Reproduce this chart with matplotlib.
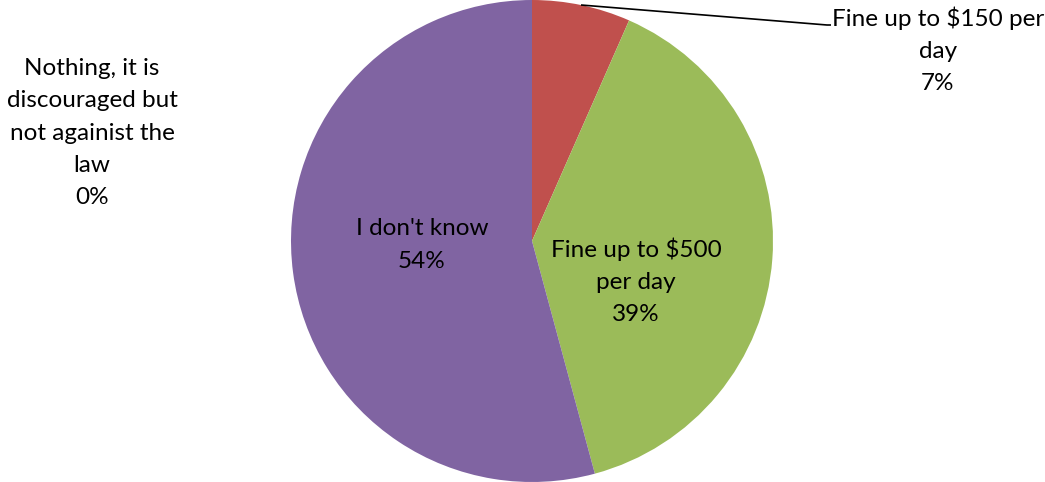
import matplotlib
matplotlib.use("Agg")
import matplotlib.pyplot as plt

# Survey answers, in percent
answers = [
    "Fine up to $150 per\nday",
    "Fine up to $500\nper day",
    "I don't know",
    "Nothing, it is\ndiscouraged but\nnot againist the\nlaw",
]
shares = [6.6, 39.2, 54.2, 0.0]
colors = ["#C0504D", "#9BBB59", "#8064A2", "#4F81BD"]

plt.rcParams["font.family"] = ["Lato", "DejaVu Sans"]

fig = plt.figure(figsize=(10.45, 4.82), dpi=100)
ax = fig.add_axes([0, 0, 1, 1])

ax.pie(shares, colors=colors, startangle=90, counterclock=False,
       center=(532, 241), radius=241, wedgeprops=dict(linewidth=0),
       frame=True)
ax.set_xlim(0, 1045)
ax.set_ylim(0, 482)
ax.set_aspect("equal")
ax.axis("off")

label_pos = [(938, 432), (636, 201), (422, 237), (92, 349)]
for name, val, (x, y) in zip(answers, shares, label_pos):
    ax.text(x, y, f"{name}\n{val:.0f}%", ha="center", va="center",
            fontsize=17.5, linespacing=1.66, color="black")

# leader line for the small slice
ax.plot([581, 827, 831], [477, 457, 457], color="black", lw=1.2,
        solid_capstyle="butt")

fig.savefig("out.png", dpi=100)
